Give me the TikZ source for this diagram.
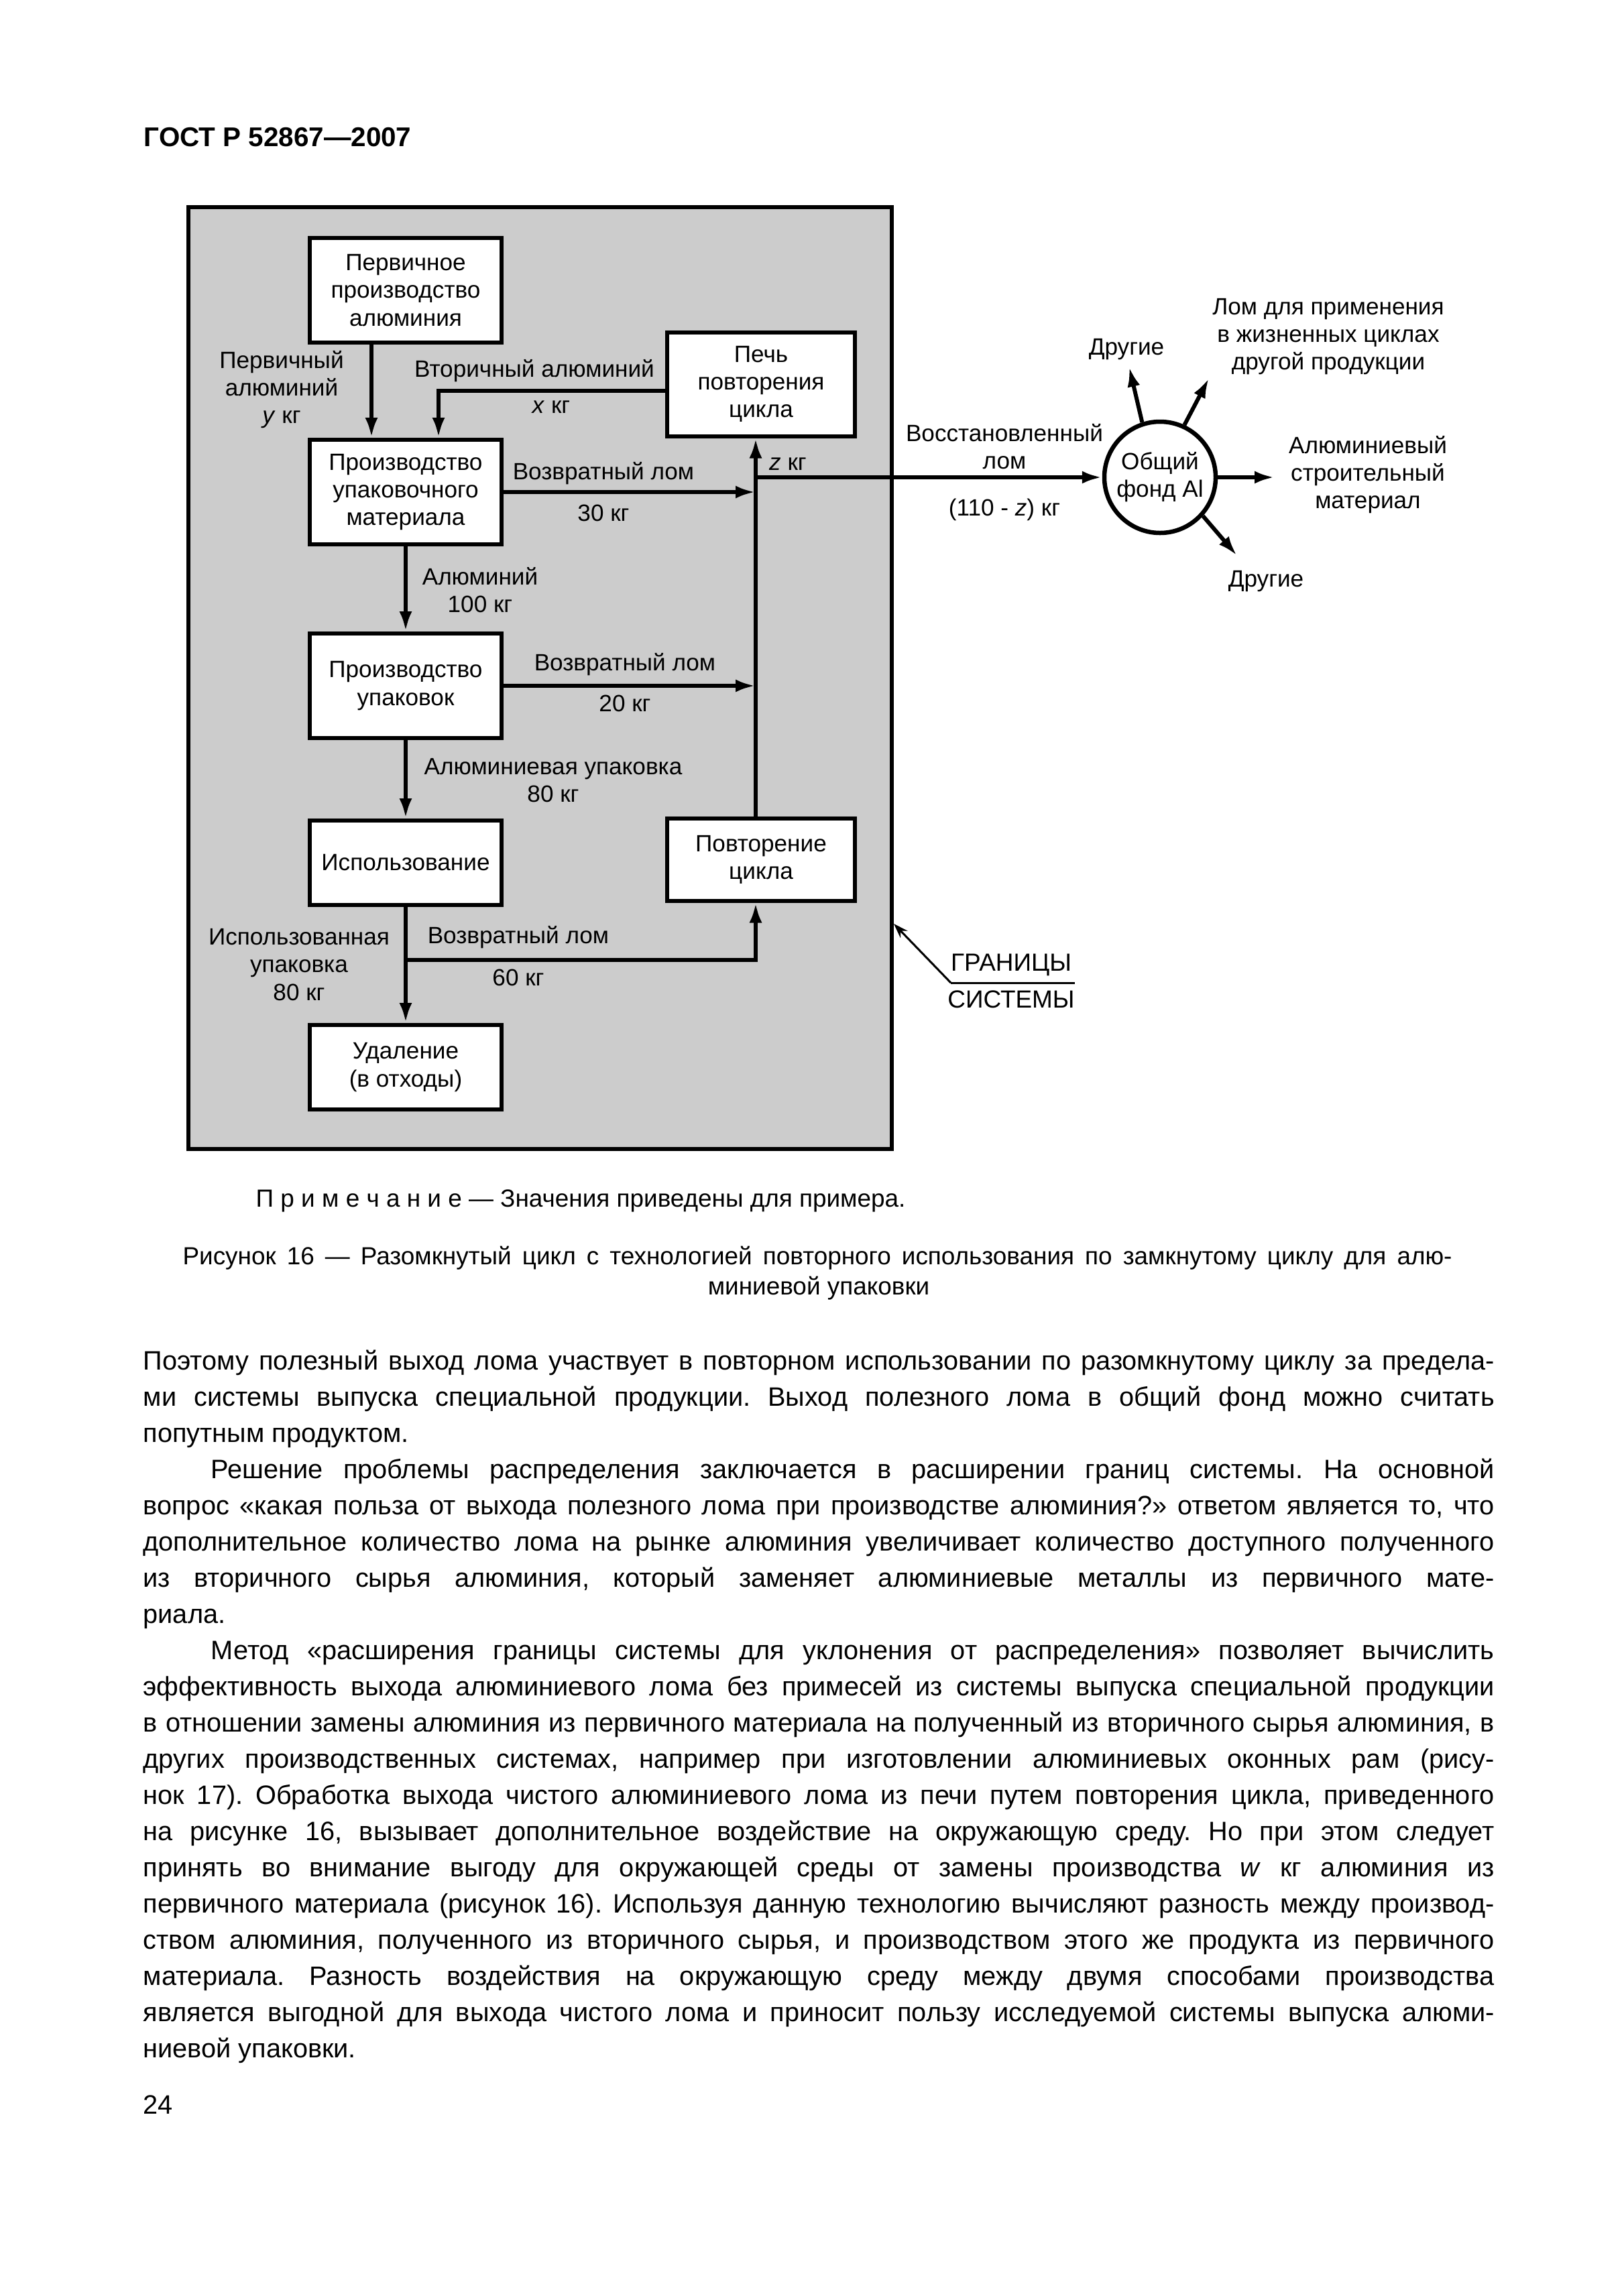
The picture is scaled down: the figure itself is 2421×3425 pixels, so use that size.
\documentclass[tikz,border=0pt]{standalone}
\usepackage{fontspec}
\setmainfont{Liberation Sans}
\usetikzlibrary{arrows.meta}
\newcommand{\labfont}{\fontsize{10}{11.7}\selectfont}
\newcommand{\txtfont}{\fontsize{11.3}{13}\selectfont}
\newcommand{\capfont}{\fontsize{10.5}{12.5}\selectfont}
\tikzstyle{sys} = [draw=black, line width=0.6mm, fill=gray!40, minimum width=104.9mm, minimum height=140.5mm, inner sep=0pt]
\tikzstyle{blk} = [draw=black, line width=0.6mm, fill=white, align=center, font=\labfont, minimum width=28.6mm, minimum height=15.6mm, inner sep=0pt]
\tikzstyle{low} = [minimum height=12.6mm]
\tikzstyle{pool} = [draw=black, line width=0.65mm, fill=white, circle, minimum size=16.6mm, align=center, font=\labfont, inner sep=0pt]
\tikzstyle{lab} = [align=center, font=\labfont, inner sep=0pt]
\tikzstyle{flow} = [line width=0.6mm]
\tikzstyle{txt} = [anchor=base west, inner sep=0pt, font=\txtfont]
\begin{document}
\frenchspacing
\begin{tikzpicture}[x=0.1mm, y=-0.1mm, >={Latex[length=3mm,width=1.9mm]}]
    \useasboundingbox (0,0) rectangle (2421,3425);
    \node[anchor=west, inner sep=0pt, font=\fontsize{11.5}{13}\selectfont\bfseries] (hdr) at (214,205) {ГОСТ Р 52867—2007};

    \node[sys] (sys) at (805.5,1011.5) {};
    \node[blk] (prim) at (605,433) {Первичное\\производство\\алюминия};
    \node[blk, minimum width=28mm, minimum height=15.5mm] (pech) at (1135,573) {Печь\\повторения\\цикла};
    \node[blk] (upm) at (605,734) {Производство\\упаковочного\\материала};
    \node[blk] (upk) at (605,1023) {Производство\\упаковок};
    \node[blk,low] (isp) at (605,1287) {Использование};
    \node[blk,low, minimum width=28mm, minimum height=12.3mm] (povt) at (1135,1282) {Повторение\\цикла};
    \node[blk,low] (ud) at (605,1592) {Удаление\\(в отходы)};
    \node[pool] (fond) at (1730,712) {Общий\\фонд Al};

    \coordinate (jz) at (1127,712);
    \coordinate (j30) at (1127,734);
    \coordinate (j20) at (1127,1023);
    \coordinate (j60) at (605,1432);
    \coordinate (o1) at (1684,547);
    \coordinate (o2) at (1803,564);
    \coordinate (o3) at (1901,712);
    \coordinate (o4) at (1845,829);

    \draw[flow,->] ([xshift=-5.1mm]prim.south) -- ([xshift=-5.1mm]upm.north);
    \draw[flow,->] ([yshift=-1mm]pech.west) -| ([xshift=4.9mm]upm.north);
    \draw[flow,->] (upm.east) -- (j30);
    \draw[flow,->] (upk.east) -- (j20);
    \draw[flow,->] ([xshift=-0.8mm]povt.north) -- ([xshift=-0.8mm]pech.south);
    \draw[flow,->] (jz) -- (fond);
    \draw[flow,->] (upm) -- (upk);
    \draw[flow,->] (upk) -- (isp);
    \draw[flow,->] (isp) -- (ud);
    \draw[flow,->] (j60) -| ([xshift=-0.8mm]povt.south);
    \draw[flow,->] (fond.108) -- (o1);
    \draw[flow,->] (fond.65) -- (o2);
    \draw[flow,->] (fond.east) -- (o3);
    \draw[flow,->] (fond.-42) -- (o4);

    \node[lab] (lpa) at (420,581) {Первичный\\алюминий\\\textit{у} кг};
    \node[lab] (lva) at (797,553) {Вторичный алюминий};
    \node[lab] (lx) at (822,607) {\textit{x} кг};
    \node[lab] (lz) at (1175,692) {\textit{z} кг};
    \node[lab] (lv30) at (900,706) {Возвратный лом};
    \node[lab] (l30) at (900,765) {30 кг};
    \node[lab] (lal) at (716,880) {Алюминий\\100 кг};
    \node[lab] (lv20) at (932,991) {Возвратный лом};
    \node[lab] (l20) at (932,1049) {20 кг};
    \node[lab] (lau) at (825,1164) {Алюминиевая упаковка\\80 кг};
    \node[lab] (liu) at (446,1439) {Использованная\\упаковка\\80 кг};
    \node[lab] (lv60) at (773,1398) {Возвратный лом};
    \node[lab] (l60) at (773,1458) {60 кг};
    \node[lab] (lvl) at (1498,666) {Восстановленный\\лом};
    \node[lab] (l110) at (1498,760) {(110 - \textit{z}) кг};
    \node[lab] (dr1) at (1680,521) {Другие};
    \node[lab] (lom) at (1981,502) {Лом для применения\\в жизненных циклах\\другой продукции};
    \node[lab] (alst) at (2040,708) {Алюминиевый\\строительный\\материал};
    \node[lab] (dr2) at (1888,867) {Другие};

    \node[lab, font=\capfont] (gran) at (1508,1439) {ГРАНИЦЫ};
    \node[lab, font=\capfont] (sist) at (1508,1491) {СИСТЕМЫ};
    \coordinate (ul) at (1418,1466);
    \coordinate (ur) at (1603,1466);
    \draw[line width=0.3mm] (ul) -- (ur);
    \draw[line width=0.3mm, -{Stealth[length=2.2mm,width=1.5mm]}] (ul) -- ([yshift=-36.65mm]sys.east);

    \node[anchor=west, inner sep=0pt, font=\capfont] (note) at (381,1791) {П р и м е ч а н и е — Значения приведены для примера.};
    \node[inner sep=0pt, font=\capfont] (cap1) at (1219,1877) {\makebox[189.3mm][s]{Рисунок 16 — Разомкнутый цикл с технологией повторного использования по замкнутому циклу для алю-}};
    \node[inner sep=0pt, font=\capfont] (cap2) at (1221,1922) {миниевой упаковки};

    \node[txt] (t1) at (213,2043) {\makebox[201.5mm][s]{Поэтому полезный выход лома участвует в повторном использовании по разомкнутому циклу за предела-}};
    \node[txt] (t2) at (213,2097) {\makebox[201.5mm][s]{ми системы выпуска специальной продукции. Выход полезного лома в общий фонд можно считать}};
    \node[txt] (t3) at (213,2151) {попутным продуктом.};
    \node[txt] (t4) at (314,2205) {\makebox[191.4mm][s]{Решение проблемы распределения заключается в расширении границ системы. На основной}};
    \node[txt] (t5) at (213,2259) {\makebox[201.5mm][s]{вопрос «какая польза от выхода полезного лома при производстве алюминия?» ответом является то, что}};
    \node[txt] (t6) at (213,2313) {\makebox[201.5mm][s]{дополнительное количество лома на рынке алюминия увеличивает количество доступного полученного}};
    \node[txt] (t7) at (213,2367) {\makebox[201.5mm][s]{из вторичного сырья алюминия, который заменяет алюминиевые металлы из первичного мате-}};
    \node[txt] (t8) at (213,2421) {риала.};
    \node[txt] (t9) at (314,2475) {\makebox[191.4mm][s]{Метод «расширения границы системы для уклонения от распределения» позволяет вычислить}};
    \node[txt] (t10) at (213,2529) {\makebox[201.5mm][s]{эффективность выхода алюминиевого лома без примесей из системы выпуска специальной продукции}};
    \node[txt] (t11) at (213,2583) {\makebox[201.5mm][s]{в отношении замены алюминия из первичного материала на полученный из вторичного сырья алюминия, в}};
    \node[txt] (t12) at (213,2637) {\makebox[201.5mm][s]{других производственных системах, например при изготовлении алюминиевых оконных рам (рису-}};
    \node[txt] (t13) at (213,2691) {\makebox[201.5mm][s]{нок 17). Обработка выхода чистого алюминиевого лома из печи путем повторения цикла, приведенного}};
    \node[txt] (t14) at (213,2745) {\makebox[201.5mm][s]{на рисунке 16, вызывает дополнительное воздействие на окружающую среду. Но при этом следует}};
    \node[txt] (t15) at (213,2799) {\makebox[201.5mm][s]{принять во внимание выгоду для окружающей среды от замены производства \textit{w} кг алюминия из}};
    \node[txt] (t16) at (213,2853) {\makebox[201.5mm][s]{первичного материала (рисунок 16). Используя данную технологию вычисляют разность между производ-}};
    \node[txt] (t17) at (213,2907) {\makebox[201.5mm][s]{ством алюминия, полученного из вторичного сырья, и производством этого же продукта из первичного}};
    \node[txt] (t18) at (213,2961) {\makebox[201.5mm][s]{материала. Разность воздействия на окружающую среду между двумя способами производства}};
    \node[txt] (t19) at (213,3015) {\makebox[201.5mm][s]{является выгодной для выхода чистого лома и приносит пользу исследуемой системы выпуска алюми-}};
    \node[txt] (t20) at (213,3069) {ниевой упаковки.};
    \node[txt] (pg) at (213,3153) {24};
\end{tikzpicture}
\end{document}
